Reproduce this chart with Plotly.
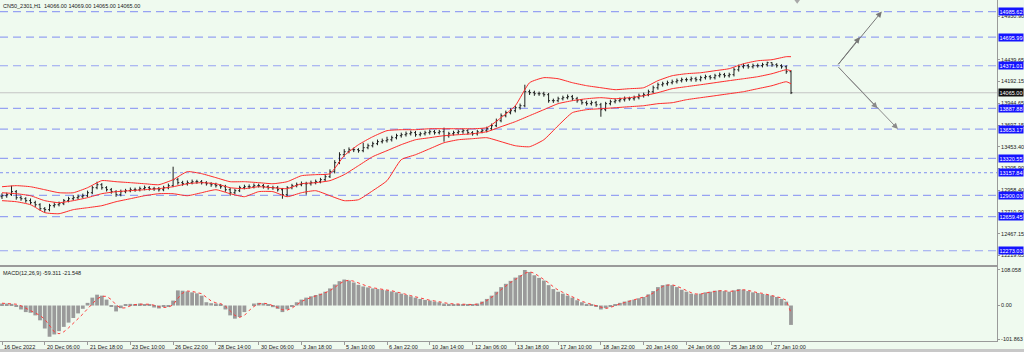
import plotly.graph_objects as go

title_text = "CN50_2301,H1  14066.00 14069.00 14065.00 14065.00"
macd_text = "MACD(12,26,9) -59.311 -21.548"

# 4-hour bars (bar index 0..166)
opens = [12886,12897,12909,12943,12875,12863,12841,12818,12795,12750,
12739,12784,12795,12807,12841,12863,12875,12886,12897,12931,
12988,13022,12988,12965,12943,12909,12943,12954,12965,12965,
12977,12988,12977,12977,12965,12988,13011,13079,13045,13033,
13045,13056,13056,13045,13033,13022,13011,12999,12965,12931,
12954,12988,12999,12999,13011,13011,12999,12988,12988,12965,
12909,12988,13011,13022,13033,13033,13045,13056,13079,13113,
13170,13272,13362,13396,13419,13419,13408,13442,13464,13487,
13510,13521,13532,13555,13578,13589,13600,13612,13589,13600,
13612,13623,13612,13623,13578,13600,13612,13623,13635,13612,
13600,13623,13635,13657,13691,13748,13805,13839,13861,13895,
13918,14077,14066,14054,14054,14043,13975,13975,13997,14009,
14020,13997,13975,13952,13941,13952,13929,13873,13941,13963,
13975,13986,13997,13997,14009,14031,14043,14077,14122,14156,
14167,14179,14190,14202,14213,14213,14224,14213,14236,14247,
14236,14258,14270,14258,14270,14326,14360,14372,14360,14372,
14372,14383,14406,14383,14372,14360,14304]
highs = [12925,12932,13011,12962,12898,12880,12866,12840,12812,12768,
12805,12822,12830,12860,12885,12902,12910,12921,12955,13010,
13056,13040,13005,12985,12960,12966,12975,12990,12988,13000,
13012,13006,12998,12996,13010,13035,13226,13100,13066,13070,
13080,13078,13075,13062,13050,13044,13030,13020,12985,12975,
13010,13022,13025,13036,13034,13030,13018,13010,13008,12985,
13006,13032,13046,13058,13055,13068,13080,13100,13138,13196,
13300,13390,13425,13445,13442,13436,13498,13488,13510,13534,
13545,13566,13578,13600,13612,13625,13636,13632,13622,13634,
13646,13642,13645,13669,13622,13634,13645,13656,13652,13630,
13645,13658,13680,13715,13772,13830,13862,13888,13920,13942,
14156,14100,14088,14078,14076,14062,13998,14020,14032,14045,
14040,14018,13994,13975,13976,13972,13950,13962,13986,13998,
14010,14022,14020,14032,14055,14066,14100,14146,14180,14190,
14202,14214,14226,14236,14236,14248,14245,14258,14270,14266,
14280,14294,14290,14292,14350,14384,14396,14392,14395,14396,
14405,14417,14410,14400,14388,14376,14320]
lows = [12860,12874,12895,12852,12840,12818,12797,12770,12728,12705,
12720,12762,12776,12790,12822,12845,12852,12866,12880,12915,
12970,12966,12945,12920,12885,12890,12925,12936,12942,12946,
12958,12955,12952,12944,12948,12970,12995,13022,13010,13012,
13026,13032,13024,13012,12998,12990,12976,12942,12897,12915,
12938,12970,12976,12980,12990,12978,12966,12964,12944,12863,
12890,12970,12992,13004,12909,13012,13026,13038,13062,13098,
13150,13255,13340,13378,13392,13385,13390,13424,13445,13470,
13490,13500,13512,13536,13556,13568,13580,13566,13570,13580,
13590,13590,13592,13510,13556,13580,13592,13600,13590,13578,
13580,13605,13615,13640,13675,13730,13786,13820,13842,13874,
13900,14040,14030,14030,14020,13952,13950,13956,13978,13990,
13975,13952,13930,13918,13920,13906,13793,13855,13922,13944,
13956,13965,13975,13976,13990,14010,14025,14058,14100,14135,
14146,14160,14170,14182,14190,14192,14190,14194,14215,14214,
14216,14238,14236,14238,14250,14305,14340,14338,14340,14350,
14352,14362,14360,14350,14338,14280,14050]
closes = [12897,12909,12943,12875,12863,12841,12818,12795,12750,12739,
12784,12795,12807,12841,12863,12875,12886,12897,12931,12988,
13022,12988,12965,12943,12909,12943,12954,12965,12965,12977,
12988,12977,12977,12965,12988,13011,13079,13045,13033,13045,
13056,13056,13045,13033,13022,13011,12999,12965,12931,12954,
12988,12999,12999,13011,13011,12999,12988,12988,12965,12909,
12988,13011,13022,13033,13033,13045,13056,13079,13113,13170,
13272,13362,13396,13419,13419,13408,13442,13464,13487,13510,
13521,13532,13555,13578,13589,13600,13612,13589,13600,13612,
13623,13612,13623,13578,13600,13612,13623,13635,13612,13600,
13623,13635,13657,13691,13748,13805,13839,13861,13895,13918,
14077,14066,14054,14054,14043,13975,13975,13997,14009,14020,
13997,13975,13952,13941,13952,13929,13873,13941,13963,13975,
13986,13997,13997,14009,14031,14043,14077,14122,14156,14167,
14179,14190,14202,14213,14213,14224,14213,14236,14247,14236,
14258,14270,14258,14270,14326,14360,14372,14360,14372,14372,
14383,14406,14383,14372,14360,14304,14065]
bars = list(range(len(closes)))

# Bollinger bands read every 3 bars
band_idx = list(range(0, 166, 3)) + [166]
bb_upper = [12999,13011,12999,12965,12931,12931,12988,13068,13056,13045,
13033,13022,13079,13170,13147,13102,13056,13056,13045,13033,
13056,13124,13136,13147,13351,13476,13566,13635,13646,13646,
13657,13657,13657,13657,13669,13782,13918,14179,14236,14224,
14179,14145,14122,14100,14111,14122,14202,14258,14281,14292,
14315,14338,14394,14428,14440,14474,14474]
bb_mid = [12931,12920,12897,12841,12818,12841,12875,12920,12943,12954,
12965,12977,12999,13033,13045,13033,12988,12977,12999,12988,
12977,13033,13045,13068,13136,13238,13340,13408,13476,13532,
13555,13578,13589,13600,13623,13680,13737,13805,13873,13941,
13975,13997,14009,13997,14009,14031,14066,14111,14134,14156,
14179,14202,14224,14247,14281,14326,14315]
bb_lower = [12841,12829,12795,12705,12693,12739,12761,12784,12829,12863,
12897,12920,12920,12897,12931,12965,12920,12886,12943,12943,
12886,12931,12954,12897,12841,12852,12954,13068,13306,13362,
13430,13498,13532,13544,13555,13510,13464,13453,13532,13691,
13839,13873,13884,13895,13907,13918,13941,13952,13986,14009,
14031,14054,14077,14111,14145,14190,14167]

macd_main = [6,6,5,-3,-12,-20,-22,-30,-45,-70,
-95,-88,-78,-65,-52,-38,-24,-10,8,24,
33,30,18,-2,-18,-8,2,5,3,6,
4,3,-6,-9,-4,-3,15,46,45,43,
40,37,30,10,7,6,4,-12,-30,-40,
-35,-20,0,6,8,7,2,-5,-10,-20,
-12,-2,10,18,24,28,32,36,42,52,
64,74,79,76,70,63,58,55,52,50,
48,46,43,40,36,32,28,24,20,17,
15,12,10,6,5,4,3,4,3,2,
6,12,20,30,42,56,66,75,85,92,
108,102,92,84,76,62,50,42,36,30,
24,16,10,5,2,-2,-12,-8,-2,4,
8,12,15,18,22,26,34,44,56,62,
64,62,56,48,42,36,34,36,40,42,
45,46,44,42,46,50,48,44,40,38,
35,33,30,26,20,12,-59]
macd_signal = [7,6,6,4,-1,-8,-15,-22,-30,-42,
-62,-80,-86,-80,-68,-55,-40,-26,-10,6,
20,28,28,18,2,-8,-7,-1,3,4,
4,4,1,-4,-6,-5,2,22,38,44,
43,40,36,25,14,8,6,-2,-16,-30,
-36,-30,-15,-3,5,7,5,0,-6,-13,
-14,-8,2,12,19,25,29,33,38,45,
55,66,74,77,74,68,62,58,54,51,
49,47,45,42,38,34,30,26,22,19,
16,14,11,8,6,5,4,4,3,3,
4,8,15,24,35,48,60,70,79,88,
98,103,98,89,80,69,57,47,40,33,
27,20,13,8,4,0,-6,-9,-6,0,
5,9,13,16,20,24,30,38,49,58,
62,63,59,52,45,39,35,35,38,41,
43,45,45,43,44,47,48,46,42,39,
37,34,31,28,23,16,-22]

x_labels = ["16 Dec 2022", "20 Dec 06:00", "21 Dec 18:00", "23 Dec 10:00", "26 Dec 22:00",
            "28 Dec 14:00", "30 Dec 06:00", "3 Jan 18:00", "5 Jan 10:00", "6 Jan 22:00",
            "10 Jan 14:00", "12 Jan 06:00", "13 Jan 18:00", "17 Jan 10:00", "18 Jan 22:00",
            "20 Jan 14:00", "24 Jan 06:00", "25 Jan 18:00", "27 Jan 10:00"]
x_label_pos = [0, 9, 18, 27, 36, 45, 54, 63, 72, 81, 90, 99, 108, 117, 126, 135, 144, 153, 162]

dashed_levels = [14985.62, 14695.99, 14371.01, 13887.88, 13653.17, 13320.55, 12900.03, 12659.45, 12273.03]
dotted_levels = [13157.84]
current_price = 14065.00
price_ticks = [14930.90, 14439.65, 14192.15, 13944.65, 13697.15, 13453.40, 13205.90, 12958.40, 12710.90, 12467.15, 12219.65]
macd_ticks = [108.058, 0.00, -101.863]
macd_tick_text = ["108.058", "0.00", "-101.863"]

# projection arrows (bar index, price): start, middle, end
arrow_up_x = [175.7, 180.5, 185.1]
arrow_up_y = [14371.01, 14695.99, 14985.62]
arrow_dn_x = [175.7, 184.2, 188.5]
arrow_dn_y = [14371.01, 13887.88, 13653.17]
shift_marker_x = [167.3]
shift_marker_y = [15104]

BG = "#EFFAEF"
FONT = "Liberation Sans"
AXC = "#9a9a9a"
XR = [-0.421, 209.34]
PANE_SPLIT = 0.21994

fig = go.Figure()

fig.add_trace(go.Ohlc(x=bars, open=opens, high=highs, low=lows, close=closes,
                      increasing=dict(line=dict(color="#1e1e1e", width=1)),
                      decreasing=dict(line=dict(color="#1e1e1e", width=1)),
                      tickwidth=0.3, xaxis="x", yaxis="y", hoverinfo="skip"))

for band in (bb_upper, bb_mid, bb_lower):
    fig.add_trace(go.Scatter(x=band_idx, y=band, mode="lines",
                             line=dict(color="#ff2a2a", width=1, shape="spline", smoothing=0.5),
                             xaxis="x", yaxis="y", hoverinfo="skip"))

fig.add_trace(go.Scatter(x=shift_marker_x, y=shift_marker_y, mode="markers",
                         marker=dict(symbol="triangle-down", size=5, color="#a8a8a8"),
                         xaxis="x", yaxis="y", cliponaxis=False, hoverinfo="skip"))

fig.add_trace(go.Bar(x=bars, y=macd_main, width=0.8, marker=dict(color="#9a9a9a", line=dict(width=0)),
                     xaxis="x2", yaxis="y2", hoverinfo="skip"))
fig.add_trace(go.Scatter(x=bars, y=macd_signal, mode="lines",
                         line=dict(color="#ff3b3b", width=1, dash="dot"),
                         xaxis="x2", yaxis="y2", hoverinfo="skip"))

shapes = []
for lv in dashed_levels:
    shapes.append(dict(type="line", xref="paper", yref="y", x0=0, x1=1, y0=lv, y1=lv,
                       line=dict(color="#96a2f2", width=1.2, dash="8px,5px"), layer="below"))
for lv in dotted_levels:
    shapes.append(dict(type="line", xref="paper", yref="y", x0=0, x1=1, y0=lv, y1=lv,
                       line=dict(color="#8090f0", width=1, dash="dot"), layer="below"))
shapes.append(dict(type="line", xref="paper", yref="y", x0=0, x1=1, y0=current_price, y1=current_price,
                   line=dict(color="#c4c4c4", width=1), layer="below"))
shapes.append(dict(type="rect", xref="paper", yref="paper", x0=-0.01, x1=1.05, y0=-0.0323, y1=-0.0235,
                   fillcolor="#c8c8c8", line=dict(width=0)))

annotations = []
# arrows: from start to middle and from start to end
for xs, ys, col in ((arrow_up_x, arrow_up_y, "#777777"), (arrow_dn_x, arrow_dn_y, "#8a8a8a")):
    for k in (1, 2):
        annotations.append(dict(x=xs[k], y=ys[k], ax=xs[0], ay=ys[0], xref="x", yref="y",
                                axref="x", ayref="y", text="", showarrow=True, arrowhead=2,
                                arrowsize=1.2, arrowwidth=1, arrowcolor=col, standoff=0))
annotations.append(dict(text=title_text, xref="paper", yref="paper", x=0, y=1, xanchor="left", yanchor="top",
                        xshift=1, yshift=-1, showarrow=False, font=dict(family=FONT, size=5.5, color="#202020")))
annotations.append(dict(text=macd_text, xref="paper", yref="paper", x=0, y=PANE_SPLIT, xanchor="left",
                        yanchor="top", xshift=1, yshift=-2, showarrow=False,
                        font=dict(family=FONT, size=5.5, color="#202020")))
for lv in dashed_levels + dotted_levels:
    annotations.append(dict(text=f"{lv:.2f}", xref="paper", yref="y", x=1, y=lv, xanchor="left",
                            xshift=1, showarrow=False, bgcolor="#1414ff", borderpad=0.5,
                            font=dict(family=FONT, size=5.5, color="white")))
annotations.append(dict(text=f"{current_price:.2f}", xref="paper", yref="y", x=1, y=current_price,
                        xanchor="left", xshift=1, showarrow=False, bgcolor="#101010", borderpad=0.5,
                        font=dict(family=FONT, size=5.5, color="white")))
for pos, lab in zip(x_label_pos, x_labels):
    annotations.append(dict(text=lab, xref="x2", yref="paper", x=pos, y=0, xanchor="left", yanchor="top",
                            xshift=0, yshift=-1, showarrow=False,
                            font=dict(family=FONT, size=5.5, color="#202020")))

fig.update_layout(
    width=1024, height=352, template="none",
    margin=dict(l=0, r=27, t=0, b=11, pad=0),
    paper_bgcolor=BG, plot_bgcolor=BG, showlegend=False,
    font=dict(family=FONT, size=5.5, color="#202020"),
    shapes=shapes, annotations=annotations,
    xaxis=dict(domain=[0, 1], anchor="y", range=XR, showticklabels=False, showgrid=False, zeroline=False,
               showline=True, mirror=True, linecolor=AXC, linewidth=1, ticks="", automargin=False,
               rangeslider=dict(visible=False)),
    yaxis=dict(domain=[PANE_SPLIT, 1], anchor="x", range=[12099.8, 15117], side="right",
               tickvals=price_ticks, ticktext=[f"{v:.2f}" for v in price_ticks],
               tickfont=dict(family=FONT, size=5.5, color="#202020"), ticks="outside", ticklen=2,
               tickcolor=AXC, showgrid=False, zeroline=False, showline=True, mirror=True,
               linecolor=AXC, linewidth=1, automargin=False),
    xaxis2=dict(domain=[0, 1], anchor="y2", range=XR, matches="x", tickvals=x_label_pos,
                showticklabels=False, ticks="outside", ticklen=3, tickcolor=AXC, showgrid=False,
                zeroline=False, showline=True, mirror=True, linecolor=AXC, linewidth=1, automargin=False),
    yaxis2=dict(domain=[0, PANE_SPLIT], anchor="x2", range=[-107.95, 120.2], side="right",
                tickvals=macd_ticks, ticktext=macd_tick_text,
                tickfont=dict(family=FONT, size=5.5, color="#202020"), ticks="outside", ticklen=2,
                tickcolor=AXC, showgrid=False, zeroline=False, showline=True, mirror=True,
                linecolor=AXC, linewidth=1, automargin=False),
)

fig.write_html("out.html")
